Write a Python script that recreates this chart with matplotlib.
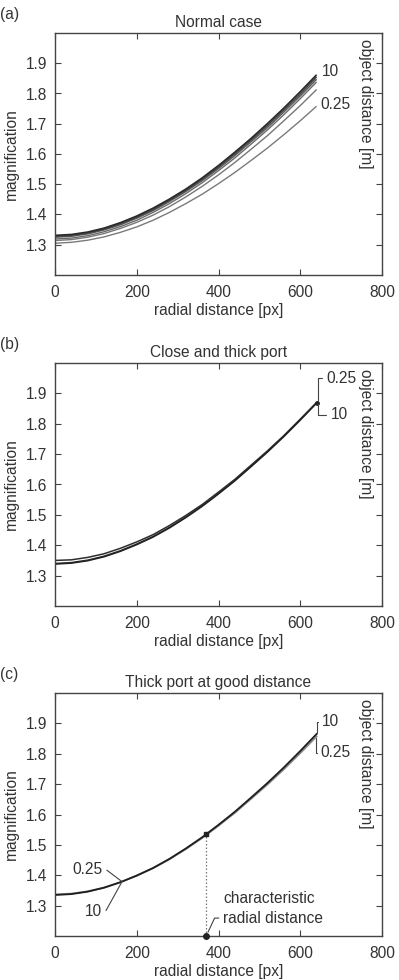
import matplotlib
matplotlib.use("Agg")
import matplotlib.pyplot as plt

plt.rcParams['font.family'] = ['Liberation Sans', 'DejaVu Sans']

# ---------------- data ----------------
radial = [0, 40, 80, 120, 160, 200, 240, 280, 320, 360, 400, 440, 480, 520, 560, 600, 640]

# (a) Normal case  (object distance [m] -> magnification)
a_dist = ['0.25', '0.5', '1', '2', '5', '10']
a_mag = {
    '10':   [1.331, 1.334, 1.342, 1.355, 1.373, 1.395, 1.421, 1.451, 1.484, 1.521, 1.562, 1.606, 1.652, 1.701, 1.752, 1.806, 1.862],
    '5':    [1.328, 1.331, 1.339, 1.352, 1.370, 1.391, 1.417, 1.447, 1.480, 1.517, 1.557, 1.601, 1.647, 1.695, 1.746, 1.799, 1.855],
    '2':    [1.325, 1.328, 1.336, 1.349, 1.366, 1.388, 1.413, 1.443, 1.476, 1.512, 1.552, 1.595, 1.641, 1.688, 1.739, 1.792, 1.847],
    '1':    [1.319, 1.322, 1.330, 1.343, 1.360, 1.381, 1.407, 1.436, 1.469, 1.505, 1.545, 1.587, 1.633, 1.680, 1.730, 1.783, 1.838],
    '0.5':  [1.314, 1.317, 1.325, 1.337, 1.354, 1.374, 1.398, 1.426, 1.458, 1.493, 1.531, 1.572, 1.616, 1.661, 1.710, 1.760, 1.813],
    '0.25': [1.305, 1.308, 1.315, 1.326, 1.341, 1.359, 1.381, 1.407, 1.436, 1.467, 1.502, 1.539, 1.579, 1.620, 1.664, 1.710, 1.758],
}
a_colors = {'0.25': '#7a7a7a', '0.5': '#777777', '1': '#6a6a6a', '2': '#5a5a5a', '5': '#454545', '10': '#2a2a2a'}
a_widths = {'0.25': 1.0, '0.5': 1.0, '1': 1.0, '2': 1.1, '5': 1.2, '10': 1.2}

# (b) Close and thick port
b_dist = ['0.25', '1', '10']
b_mag = {
    '0.25': [1.350, 1.352, 1.360, 1.372, 1.390, 1.411, 1.435, 1.465, 1.498, 1.534, 1.575, 1.617, 1.664, 1.711, 1.761, 1.815, 1.870],
    '1':    [1.340, 1.343, 1.351, 1.364, 1.382, 1.404, 1.429, 1.459, 1.493, 1.530, 1.571, 1.614, 1.661, 1.709, 1.760, 1.814, 1.869],
    '10':   [1.338, 1.341, 1.349, 1.362, 1.380, 1.402, 1.427, 1.457, 1.491, 1.528, 1.569, 1.612, 1.659, 1.707, 1.758, 1.812, 1.868],
}
b_colors = {'0.25': '#2e2e2e', '1': '#333333', '10': '#222222'}

# (c) Thick port at good distance
c_dist = ['0.25', '10']
c_mag = {
    '0.25': [1.337, 1.3395, 1.347, 1.3595, 1.377, 1.3985, 1.423, 1.4525, 1.486, 1.5225, 1.563, 1.6055, 1.652, 1.699, 1.749, 1.802, 1.857],
    '10':   [1.335, 1.338, 1.346, 1.359, 1.377, 1.399, 1.424, 1.454, 1.488, 1.525, 1.566, 1.609, 1.656, 1.704, 1.755, 1.809, 1.865],
}
c_colors = {'0.25': '#8a8a8a', '10': '#1e1e1e'}
crossing_index = 4
char_x = 370
char_y = 1.535

titles = ['Normal case', 'Close and thick port', 'Thick port at good distance']
panel_tags = ['(a)', '(b)', '(c)']
xticks = [0, 200, 400, 600, 800]
yticks = [1.3, 1.4, 1.5, 1.6, 1.7, 1.8, 1.9]

# ---------------- figure ----------------
TXT = '#333333'
SPINE = '#444444'
FS = 11.2
fig = plt.figure(figsize=(3.99, 9.8), dpi=100)
W, H = 399, 980
ax_left, ax_right = 55, 382
tops = [33, 363, 693]
bottoms = [275, 606, 936]
axes = []
for t, b in zip(tops, bottoms):
    ax = fig.add_axes([ax_left / W, 1 - b / H, (ax_right - ax_left) / W, (b - t) / H])
    axes.append(ax)

for i, ax in enumerate(axes):
    ax.set_xlim(0, 800)
    ax.set_ylim(1.2, 2.0)
    ax.set_xticks(xticks)
    ax.set_yticks(yticks)
    ax.set_yticklabels([f'{v:.1f}' for v in yticks])
    ax.tick_params(direction='in', length=4, width=0.8, colors=SPINE, labelcolor=TXT,
                   labelsize=FS, top=True, right=True)
    ax.tick_params(axis='x', pad=7.5)
    ax.tick_params(axis='y', pad=5.5)
    for s in ax.spines.values():
        s.set_color(SPINE)
        s.set_linewidth(1.0)
    ax.set_title(titles[i], fontsize=FS, color=TXT, pad=4)
    ax.set_xlabel('radial distance [px]', fontsize=FS, color=TXT, labelpad=2)
    ax.set_ylabel('magnification', fontsize=FS, color=TXT, labelpad=5)
    ax.text(0.951, 0.975, 'object distance [m]', rotation=-90, transform=ax.transAxes,
            ha='center', va='top', fontsize=FS, color=TXT)
    fig.text(0.0, 1 - (tops[i] - 19) / H, panel_tags[i], fontsize=FS, color=TXT, va='center')

# (a)
ax = axes[0]
for d in a_dist:
    ax.plot(radial, a_mag[d], color=a_colors[d], lw=a_widths[d], solid_capstyle='butt')
ax.text(radial[-1] + 12, a_mag['10'][-1] + 0.012, '10', fontsize=FS, color=TXT, va='center')
ax.text(radial[-1] + 10, a_mag['0.25'][-1] + 0.006, '0.25', fontsize=FS, color=TXT, va='center')

# (b)
ax = axes[1]
for d in b_dist:
    ax.plot(radial, b_mag[d], color=b_colors[d], lw=1.1)
ax.plot([radial[-1]], [b_mag['10'][-1]], marker='o', ms=2.5, color='#222222')
arrow = dict(arrowstyle='-', color='#444444', lw=0.8, shrinkA=1, shrinkB=1,
             connectionstyle='angle,angleA=0,angleB=90,rad=0')
ax.annotate('0.25', xy=(radial[-1] + 3, b_mag['0.25'][-1]), xytext=(664, 1.949),
            fontsize=FS, color=TXT, va='center', ha='left', arrowprops=arrow)
ax.annotate('10', xy=(radial[-1] + 3, b_mag['10'][-1]), xytext=(674, 1.830),
            fontsize=FS, color=TXT, va='center', ha='left', arrowprops=arrow)

# (c)
ax = axes[2]
for d in c_dist:
    ax.plot(radial, c_mag[d], color=c_colors[d], lw=1.3)
ax.plot([char_x, char_x], [1.2, char_y], color='#777777', lw=0.9, ls=(0, (1.2, 1.6)))
ax.plot([char_x], [char_y], marker='s', ms=3.5, color='#222222', clip_on=False)
ax.plot([char_x], [1.2], marker='o', ms=4, color='#222222', clip_on=False, zorder=5)
ax.annotate('10', xy=(radial[-1] + 2, c_mag['10'][-1]), xytext=(654, 1.906),
            fontsize=FS, color=TXT, va='center', ha='left', arrowprops=arrow)
ax.annotate('0.25', xy=(radial[-1] - 2, c_mag['0.25'][-1]), xytext=(650, 1.803),
            fontsize=FS, color=TXT, va='center', ha='left', arrowprops=arrow)
cx, cy = radial[crossing_index], c_mag['10'][crossing_index]
ax.annotate('0.25', xy=(cx + 4, cy + 0.002), xytext=(80, 1.418), fontsize=FS, color=TXT,
            va='center', ha='center',
            arrowprops=dict(arrowstyle='-', color='#444444', lw=0.8, shrinkA=1, shrinkB=0,
                            connectionstyle='angle,angleA=0,angleB=143,rad=0'))
ax.annotate('10', xy=(cx + 4, cy + 0.002), xytext=(94, 1.282), fontsize=FS, color=TXT,
            va='center', ha='center',
            arrowprops=dict(arrowstyle='-', color='#444444', lw=0.8, shrinkA=1, shrinkB=0,
                            connectionstyle='angle,angleA=0,angleB=61,rad=0'))
ax.text(411, 1.325, 'characteristic', fontsize=FS, color=TXT, va='center', ha='left')
ax.annotate('radial distance', xy=(char_x, 1.2), xytext=(411, 1.259), fontsize=FS, color=TXT,
            va='center', ha='left',
            arrowprops=dict(arrowstyle='-', color='#444444', lw=0.8, shrinkA=1, shrinkB=3,
                            connectionstyle='angle,angleA=0,angleB=65,rad=0'))

fig.savefig('out.png', dpi=100)
